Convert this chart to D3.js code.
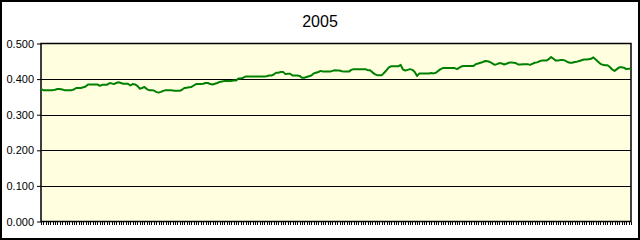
<!DOCTYPE html>
<html>
<head>
<meta charset="utf-8">
<script src="https://cdnjs.cloudflare.com/ajax/libs/d3/7.8.5/d3.min.js"></script>
<style>
  body { margin: 0; background: #fff; }
  svg { display: block; font-family: "Liberation Sans", Arial, sans-serif; }
</style>
</head>
<body>
<svg></svg>
<script>
  let w = 640;
  let h = 240;

const title = '2005';
const yTicks = [0, 0.1, 0.2, 0.3, 0.4, 0.5];

// one value per trading day
const values = [
  0.372, 0.369, 0.369, 0.369, 0.369, 0.369, 0.370, 0.372, 0.372, 0.371,
  0.369, 0.369, 0.369, 0.369, 0.371, 0.375, 0.375, 0.375, 0.377, 0.379,
  0.385, 0.385, 0.385, 0.385, 0.385, 0.381, 0.384, 0.384, 0.384, 0.388,
  0.388, 0.386, 0.389, 0.391, 0.389, 0.387, 0.387, 0.387, 0.382, 0.386,
  0.385, 0.381, 0.373, 0.375, 0.378, 0.372, 0.369, 0.369, 0.368, 0.364,
  0.362, 0.364, 0.367, 0.369, 0.369, 0.369, 0.368, 0.367, 0.367, 0.367,
  0.370, 0.375, 0.376, 0.377, 0.378, 0.382, 0.386, 0.386, 0.386, 0.387,
  0.389, 0.389, 0.386, 0.385, 0.387, 0.389, 0.392, 0.393, 0.395, 0.395,
  0.395, 0.395, 0.396, 0.396, 0.402, 0.402, 0.404, 0.407, 0.407, 0.407,
  0.407, 0.407, 0.407, 0.407, 0.407, 0.407, 0.408, 0.410, 0.410, 0.413,
  0.418, 0.418, 0.420, 0.420, 0.414, 0.415, 0.415, 0.410, 0.410, 0.410,
  0.409, 0.404, 0.404, 0.406, 0.408, 0.410, 0.416, 0.418, 0.420, 0.423,
  0.421, 0.421, 0.421, 0.421, 0.423, 0.425, 0.424, 0.424, 0.422, 0.421,
  0.421, 0.421, 0.426, 0.428, 0.428, 0.428, 0.428, 0.428, 0.428, 0.425,
  0.425, 0.419, 0.414, 0.411, 0.411, 0.411, 0.418, 0.425, 0.433, 0.436,
  0.436, 0.436, 0.436, 0.440, 0.427, 0.424, 0.426, 0.428, 0.426, 0.420,
  0.409, 0.416, 0.416, 0.416, 0.416, 0.416, 0.417, 0.416, 0.418, 0.423,
  0.428, 0.431, 0.431, 0.431, 0.431, 0.431, 0.431, 0.428, 0.432, 0.436,
  0.437, 0.437, 0.437, 0.437, 0.437, 0.442, 0.444, 0.446, 0.448, 0.451,
  0.450, 0.448, 0.444, 0.440, 0.442, 0.445, 0.444, 0.441, 0.443, 0.446,
  0.447, 0.446, 0.445, 0.441, 0.441, 0.442, 0.442, 0.442, 0.440, 0.443,
  0.446, 0.447, 0.450, 0.452, 0.452, 0.452, 0.456, 0.462, 0.457, 0.452,
  0.452, 0.454, 0.454, 0.452, 0.448, 0.446, 0.446, 0.448, 0.449, 0.451,
  0.453, 0.455, 0.455, 0.456, 0.457, 0.461, 0.455, 0.449, 0.443, 0.440,
  0.439, 0.439, 0.434, 0.427, 0.423, 0.428, 0.433, 0.433, 0.432, 0.428,
  0.429, 0.429
];
const days = values.map((v, i) => i);

const plot = { left: 41, right: 631, top: 43.5, bottom: 221.5 };

const svg = d3.select('svg')
  .attr('width', w)
  .attr('height', h)

// outer frame
svg.append('rect')
  .attr('x', 1).attr('y', 1)
  .attr('width', w - 2).attr('height', h - 2)
  .attr('fill', '#fff')
  .attr('stroke', '#000')
  .attr('stroke-width', 2)

svg.append('text')
  .attr('x', 320)
  .attr('y', 27)
  .attr('text-anchor', 'middle')
  .attr('font-size', 16)
  .text(title)

// Create Scales
const xScale = d3.scalePoint()
  .domain(days)
  .range([plot.left, plot.right])

const yScale = d3.scaleLinear()
  .domain([0, 0.5])
  .range([plot.bottom, plot.top])

svg.append('rect')
  .attr('x', plot.left).attr('y', plot.top)
  .attr('width', plot.right - plot.left)
  .attr('height', plot.bottom - plot.top)
  .attr('fill', '#ffffe0')

// gridlines
svg.append('g')
  .selectAll('line')
  .data(yTicks.slice(1, -1))
  .enter()
  .append('line')
  .attr('x1', plot.left).attr('x2', plot.right)
  .attr('y1', d => Math.round(yScale(d)) + 0.5)
  .attr('y2', d => Math.round(yScale(d)) + 0.5)
  .attr('stroke', '#000')

svg.append('rect')
  .attr('x', plot.left).attr('y', plot.top)
  .attr('width', plot.right - plot.left)
  .attr('height', plot.bottom - plot.top)
  .attr('fill', 'none')
  .attr('stroke', '#000')
  .attr('stroke-width', 1.5)

// Draw Axes
const yAxis = d3.axisLeft(yScale)
  .tickValues(yTicks)
  .tickFormat(d3.format('.3f'))
  .tickSize(4)
  .tickPadding(3)

svg.append('g')
  .attr('transform', 'translate(' + plot.left + ',0)')
  .call(yAxis)
  .call(g => g.select('.domain').remove())
  .call(g => g.selectAll('text')
    .attr('font-size', 11)
    .attr('font-family', '"Liberation Sans", Arial, sans-serif')
    .attr('fill', '#000'))
  .call(g => g.selectAll('line').attr('stroke', '#000'))

const xAxis = d3.axisBottom(xScale)
  .tickSize(3)
  .tickFormat('')

svg.append('g')
  .attr('transform', 'translate(0,' + plot.bottom + ')')
  .attr('shape-rendering', 'crispEdges')
  .call(xAxis)
  .call(g => g.select('.domain').remove())
  .call(g => g.selectAll('line').attr('stroke', '#000'))

// Draw Line
const line = d3.line()
  .x((d, i) => xScale(days[i]))
  .y(d => yScale(d))

svg.append('path')
  .datum(values)
  .attr('d', line)
  .attr('fill', 'none')
  .attr('stroke', '#008000')
  .attr('stroke-width', 2)
  .attr('stroke-linejoin', 'round')
</script>
</body>
</html>
